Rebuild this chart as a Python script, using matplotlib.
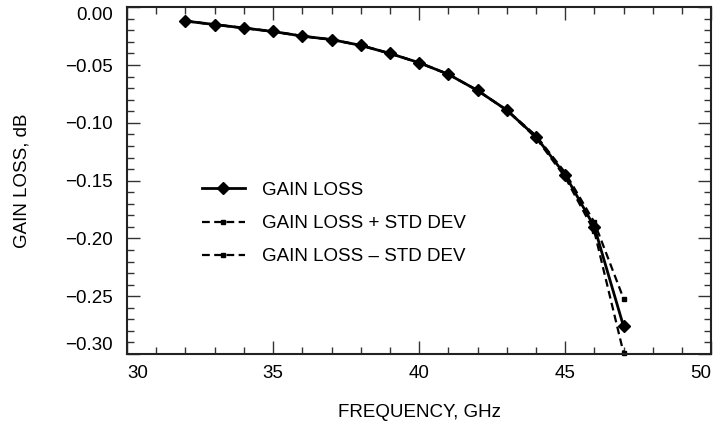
import matplotlib
matplotlib.use('Agg')
import matplotlib.pyplot as plt
from matplotlib.ticker import MultipleLocator, FuncFormatter

plt.rcParams['font.family'] = ['Liberation Sans', 'DejaVu Sans']

# data
freq = [32, 33, 34, 35, 36, 37, 38, 39, 40, 41, 42, 43, 44, 45, 46, 47]
gain_loss = [-0.012, -0.015, -0.018, -0.021, -0.025, -0.028, -0.033, -0.040,
             -0.048, -0.058, -0.072, -0.089, -0.112, -0.145, -0.190, -0.276]
gain_plus_std = [-0.012, -0.015, -0.018, -0.021, -0.025, -0.028, -0.033, -0.040,
                 -0.048, -0.058, -0.072, -0.089, -0.111, -0.143, -0.186, -0.252]
gain_minus_std = [-0.012, -0.015, -0.018, -0.021, -0.025, -0.028, -0.033, -0.040,
                  -0.048, -0.058, -0.072, -0.089, -0.113, -0.147, -0.194, -0.299]

FS = 13.5

fig = plt.figure(figsize=(7.14, 4.24), dpi=100)
ax = fig.add_axes([0.178, 0.165, 0.818, 0.818])

ax.plot(freq, gain_loss, color='black', linestyle='-', linewidth=2,
        marker='D', markersize=6, label='GAIN LOSS')
ax.plot(freq, gain_plus_std, color='black', linestyle=(0, (3.5, 2)), linewidth=1.6,
        marker='s', markersize=3.5, label='GAIN LOSS + STD DEV', clip_on=False)
ax.plot(freq, gain_minus_std, color='black', linestyle=(0, (3.5, 2)), linewidth=1.6,
        marker='s', markersize=3.5, label='GAIN LOSS \u2013 STD DEV', clip_on=False)

ax.set_xlim(30, 50)
ax.set_ylim(-0.30, 0.0)
ax.xaxis.set_major_locator(MultipleLocator(5))
ax.xaxis.set_minor_locator(MultipleLocator(1))
ax.yaxis.set_major_locator(MultipleLocator(0.05))
ax.yaxis.set_minor_locator(MultipleLocator(0.01))
ax.yaxis.set_major_formatter(FuncFormatter(
    lambda v, p: ('%.2f' % abs(v)) if abs(v) < 1e-9 else ('\u2212%.2f' % abs(v))))

ax.tick_params(which='both', direction='in', top=True, right=True, width=1,
               labelsize=FS, color='#333333')
ax.tick_params(which='major', length=9.5)
ax.tick_params(which='minor', length=5)
ax.tick_params(axis='x', which='major', pad=8)
ax.tick_params(axis='y', which='major', pad=10)
for s in ax.spines.values():
    s.set_linewidth(1.5)
    s.set_color('#222222')

# keep the end labels inside the frame, like the reference
fig.canvas.draw()
for t in ax.get_xticklabels():
    if t.get_text() == '30':
        t.set_horizontalalignment('left')
    elif t.get_text() == '50':
        t.set_horizontalalignment('right')
for t in ax.get_yticklabels():
    if t.get_text() == '0.00':
        t.set_verticalalignment('top')
    elif t.get_text() == '\u22120.30':
        t.set_verticalalignment('bottom')

ax.set_xlabel('FREQUENCY, GHz', fontsize=FS, labelpad=16)
ax.set_ylabel('GAIN LOSS, dB', fontsize=FS, labelpad=25)

ax.legend(loc='upper left', bbox_to_anchor=(0.10, 0.545), frameon=False,
          fontsize=FS, handlelength=2.25, handletextpad=0.95, labelspacing=0.85)

fig.savefig('out.png', dpi=100)
